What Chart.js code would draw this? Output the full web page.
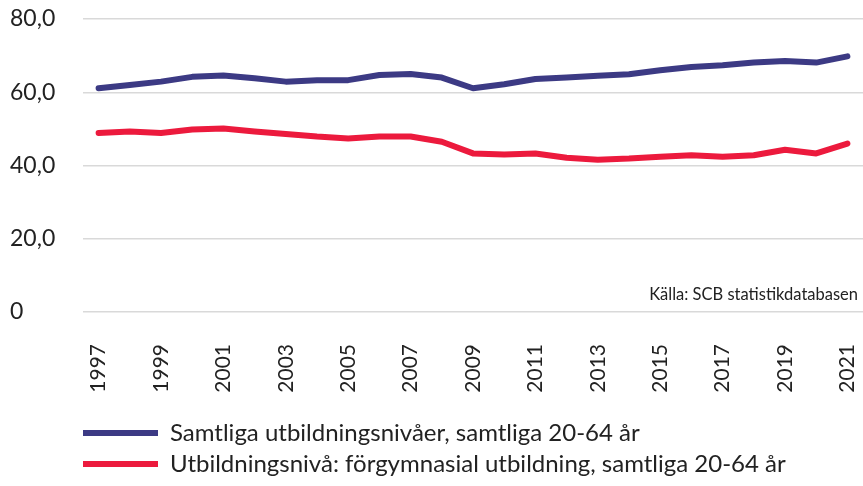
<!DOCTYPE html>
<html>
<head>
<meta charset="utf-8">
<script src="https://cdn.jsdelivr.net/npm/chart.js@4"></script>
<style>
html,body{margin:0;padding:0;background:#fff;}
#wrap{width:863px;height:486px;position:relative;}
</style>
</head>
<body>
<div id="wrap"><canvas id="c"></canvas></div>
<script>
const years = ['1997','1998','1999','2000','2001','2002','2003','2004','2005','2006','2007','2008','2009','2010','2011','2012','2013','2014','2015','2016','2017','2018','2019','2020','2021'];
const samtliga = [61.1,62.0,62.9,64.2,64.6,63.8,62.9,63.3,63.3,64.7,65.0,64.0,61.1,62.2,63.6,64.0,64.5,64.9,66.0,66.9,67.4,68.1,68.5,68.1,69.8];
const forgymnasial = [48.9,49.3,48.9,49.8,50.1,49.3,48.6,47.9,47.4,47.9,47.9,46.5,43.3,43.0,43.3,42.1,41.6,41.9,42.4,42.8,42.4,42.8,44.3,43.3,46.0];
const seriesNames = ['Samtliga utbildningsnivåer, samtliga 20-64 år','Utbildningsnivå: förgymnasial utbildning, samtliga 20-64 år'];
const sourceText = 'Källa: SCB statistikdatabasen';
const FONT = "'Lato', 'Open Sans', sans-serif";

const sourcePlugin = {
  id: 'sourceNote',
  afterDraw(chart){
    const {ctx, chartArea} = chart;
    ctx.save();
    ctx.font = "16.5px " + FONT;
    ctx.fillStyle = '#222';
    ctx.textAlign = 'right';
    ctx.textBaseline = 'middle';
    ctx.fillText(sourceText, chartArea.right - 5, chartArea.bottom - 17);
    ctx.restore();
  }
};
const legendShift = {
  id: 'legendShift',
  afterLayout(chart){
    const lg = chart.legend;
    if(lg){ lg.left = chart.chartArea.left - 7; }
  }
};

new Chart(document.getElementById('c'), {
  type: 'line',
  data: {
    labels: years,
    datasets: [
      {label: seriesNames[0], data: samtliga, borderColor:'#3c3a84', backgroundColor:'#3c3a84', borderWidth:6, pointRadius:0, tension:0, borderCapStyle:'round', borderJoinStyle:'round'},
      {label: seriesNames[1], data: forgymnasial, borderColor:'#ec1a3d', backgroundColor:'#ec1a3d', borderWidth:6, pointRadius:0, tension:0, borderCapStyle:'round', borderJoinStyle:'round'}
    ]
  },
  options: {
    responsive:true, maintainAspectRatio:false, animation:false,
    layout:{padding:{left:10,right:0,top:19,bottom:0}},
    plugins:{
      legend:{position:'bottom', align:'start',
        labels:{boxWidth:75, boxHeight:6, padding:7, color:'#222', font:{family:FONT, size:24},
          generateLabels(chart){
            const items = Chart.defaults.plugins.legend.labels.generateLabels(chart);
            items.forEach(it => { it.lineWidth = 0; });
            return items;
          }}},
      tooltip:{enabled:false}
    },
    scales:{
      x:{offset:true,
        grid:{display:false},
        border:{display:false},
        ticks:{autoSkip:false, maxRotation:90, minRotation:90, padding:24, color:'#222', font:{family:FONT,size:21},
          callback:function(v,i){ return i%2===0 ? this.getLabelForValue(v) : ''; }},
        afterFit(s){ s.paddingLeft = 0; s.paddingRight = 0; s.height = 102; }
      },
      y:{min:0,max:80,
        grid:{color:'#d9d9d9', lineWidth:1.5, drawTicks:false},
        border:{display:false},
        ticks:{stepSize:20, padding:26, crossAlign:'far', color:'#222', font:{family:FONT,size:23},
          callback:v => v===0 ? '0' : v.toFixed(1).replace('.',',')},
        afterFit(s){ s.width = 73; s.paddingTop = 0; s.paddingBottom = 0; }
      }
    }
  },
  plugins:[sourcePlugin, legendShift]
});
</script>
</body>
</html>
